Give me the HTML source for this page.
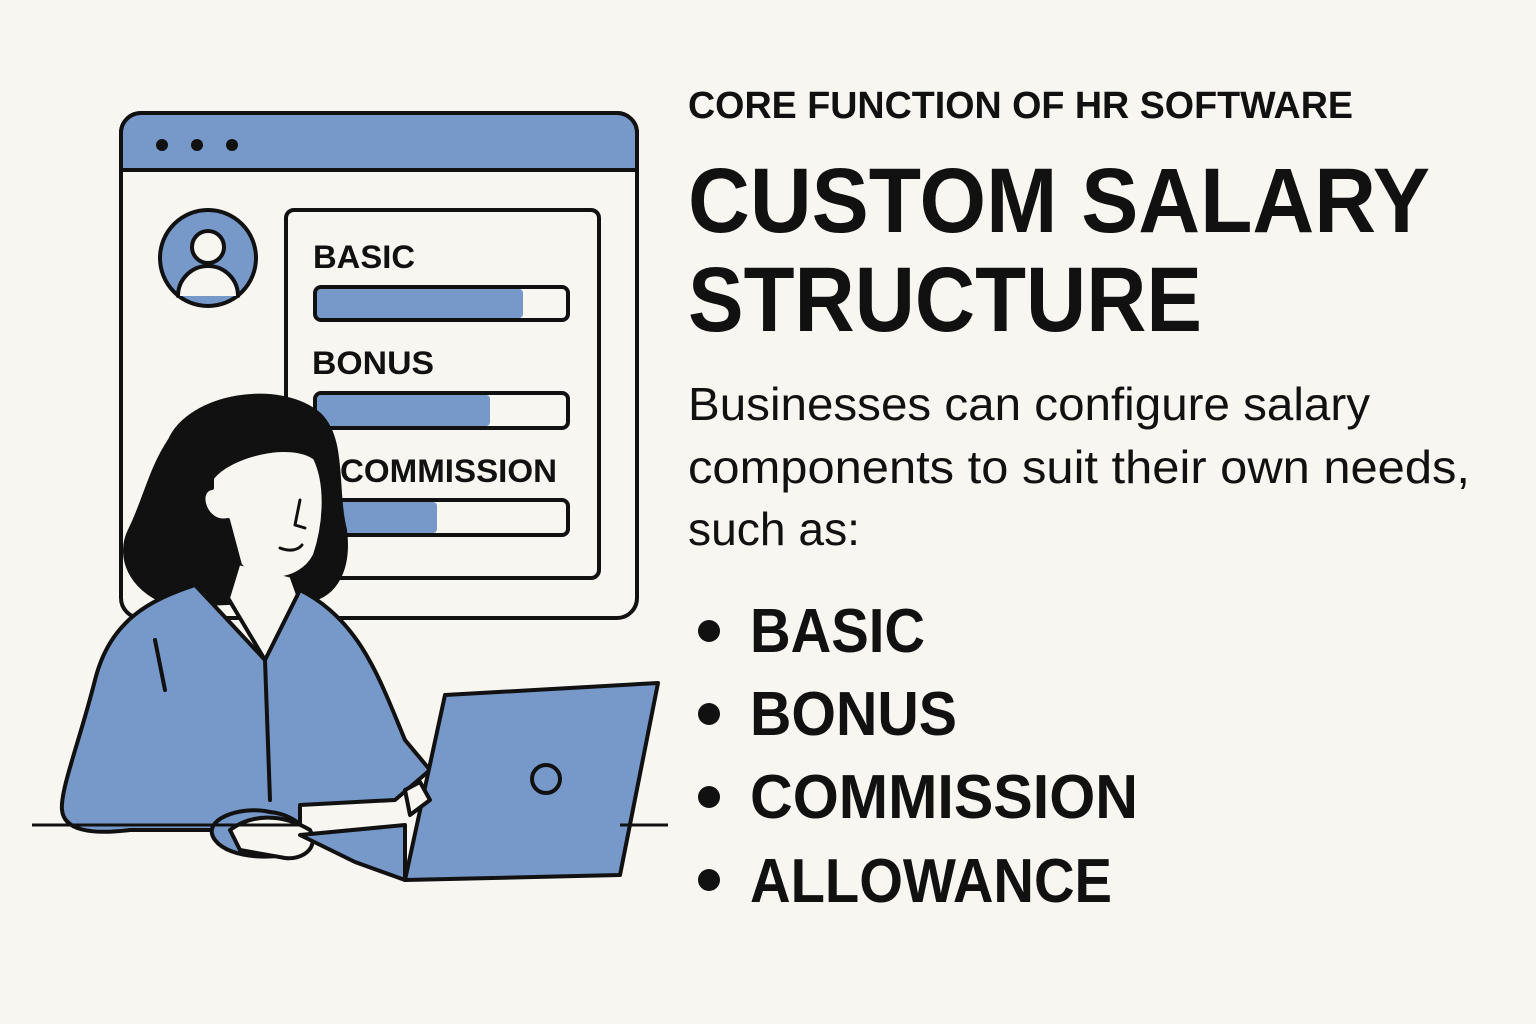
<!DOCTYPE html>
<html><head><meta charset="utf-8"><style>
html,body{margin:0;padding:0;background:#f8f6f1;}
svg{display:block}
</style></head><body>
<svg width="1536" height="1024" viewBox="0 0 1536 1024" xmlns="http://www.w3.org/2000/svg" font-family="Liberation Sans, sans-serif">
<rect width="1536" height="1024" fill="#f8f6f1"/>
<g stroke="#111" stroke-width="4" stroke-linejoin="round" stroke-linecap="round">
<rect x="121" y="113" width="516" height="505" rx="20" fill="#f8f6f1"/>
<path d="M121 170 V133 a20 20 0 0 1 20 -20 H617 a20 20 0 0 1 20 20 V170 Z" fill="#7699c9"/>
<circle cx="162" cy="145" r="6" fill="#111" stroke="none"/>
<circle cx="197" cy="145" r="6" fill="#111" stroke="none"/>
<circle cx="232" cy="145" r="6" fill="#111" stroke="none"/>
<circle cx="208" cy="258" r="48" fill="#7699c9"/>
<circle cx="208" cy="247" r="16" fill="#f8f6f1"/>
<path d="M178 296 a30 30 0 0 1 60 0" fill="#f8f6f1"/>
<rect x="286" y="210" width="313" height="368" rx="8" fill="#f8f6f1"/>
<rect x="317" y="289" width="206" height="29" rx="4" fill="#7699c9" stroke="none"/>
<rect x="315" y="287" width="253" height="33" rx="6" fill="none"/>
<rect x="317" y="395" width="173" height="31" rx="4" fill="#7699c9" stroke="none"/>
<rect x="315" y="393" width="253" height="35" rx="6" fill="none"/>
<rect x="317" y="502" width="120" height="31" rx="4" fill="#7699c9" stroke="none"/>
<rect x="315" y="500" width="253" height="35" rx="6" fill="none"/>
</g>
<g font-weight="bold" fill="#111">
<text x="313" y="268" font-size="32" textLength="102" lengthAdjust="spacingAndGlyphs">BASIC</text>
<text x="312" y="374" font-size="32" textLength="122" lengthAdjust="spacingAndGlyphs">BONUS</text>
<text x="340" y="482" font-size="32" textLength="217" lengthAdjust="spacingAndGlyphs">COMMISSION</text>
</g>
<g stroke="#111" stroke-width="4" stroke-linejoin="round" stroke-linecap="round">
<!-- hair -->
<path d="M170 440 C190 395 280 380 320 415 C345 440 335 490 345 530 C350 570 335 595 310 600 L175 605 C135 595 115 560 130 530 C145 500 150 470 170 440 Z" fill="#111"/>
<!-- face -->
<path d="M212 478 C230 455 290 440 315 458 C328 485 325 525 315 555 C300 585 255 585 240 565 L228 520 C205 525 195 490 212 488 Z" fill="#f8f6f1"/>
<path d="M300 500 L295 525 L305 528 M280 548 C290 552 298 550 302 545" fill="none" stroke-width="3"/>
<!-- neck -->
<path d="M238 565 L228 598 L265 660 L300 600 L292 578" fill="#f8f6f1"/>
<!-- body -->
<path d="M195 585 C150 600 110 620 95 680 C80 740 60 790 62 810 C64 830 90 835 130 830 L300 830 L300 805 L395 800 L430 770 L405 740 C380 680 360 620 300 590 L265 660 Z" fill="#7699c9"/>
<path d="M265 660 L270 800 M155 640 L165 690"/>
<path d="M215 840 C200 820 240 805 270 812 C300 815 320 840 300 850 C280 860 230 860 215 840 Z" fill="#7699c9"/>
<path d="M230 830 C250 815 280 812 310 830 C320 850 300 860 285 858 L240 850 Z" fill="#f8f6f1"/>
<path d="M445 695 L658 683 L620 875 L405 880 Z" fill="#7699c9"/>
<path d="M300 835 L405 825 L405 880 L355 862 Z" fill="#7699c9"/>
<circle cx="546" cy="779" r="14" fill="none"/>
<path d="M405 790 L420 782 L430 800 L410 815 Z" fill="#f8f6f1"/>
</g>
<path d="M32 825 H300 M620 825 H668" stroke="#111" stroke-width="3"/>
<g fill="#111">
<text x="688" y="118" font-size="38" font-weight="bold" textLength="665" lengthAdjust="spacingAndGlyphs">CORE FUNCTION OF HR SOFTWARE</text>
<text x="688" y="232" font-size="92" font-weight="bold" textLength="742" lengthAdjust="spacingAndGlyphs">CUSTOM SALARY</text>
<text x="688" y="331" font-size="92" font-weight="bold" textLength="514" lengthAdjust="spacingAndGlyphs">STRUCTURE</text>
<text x="688" y="420" font-size="46" textLength="682" lengthAdjust="spacingAndGlyphs">Businesses can configure salary</text>
<text x="688" y="483" font-size="46" textLength="782" lengthAdjust="spacingAndGlyphs">components to suit their own needs,</text>
<text x="688" y="545" font-size="46" textLength="172" lengthAdjust="spacingAndGlyphs">such as:</text>
<circle cx="709" cy="631" r="11"/>
<circle cx="709" cy="714" r="11"/>
<circle cx="709" cy="797" r="11"/>
<circle cx="709" cy="880" r="11"/>
<g font-size="62" font-weight="bold">
<text x="750" y="652" textLength="175" lengthAdjust="spacingAndGlyphs">BASIC</text>
<text x="750" y="735" textLength="207" lengthAdjust="spacingAndGlyphs">BONUS</text>
<text x="750" y="818" textLength="388" lengthAdjust="spacingAndGlyphs">COMMISSION</text>
<text x="750" y="902" textLength="362" lengthAdjust="spacingAndGlyphs">ALLOWANCE</text>
</g>
</g>
</svg>
</body></html>
